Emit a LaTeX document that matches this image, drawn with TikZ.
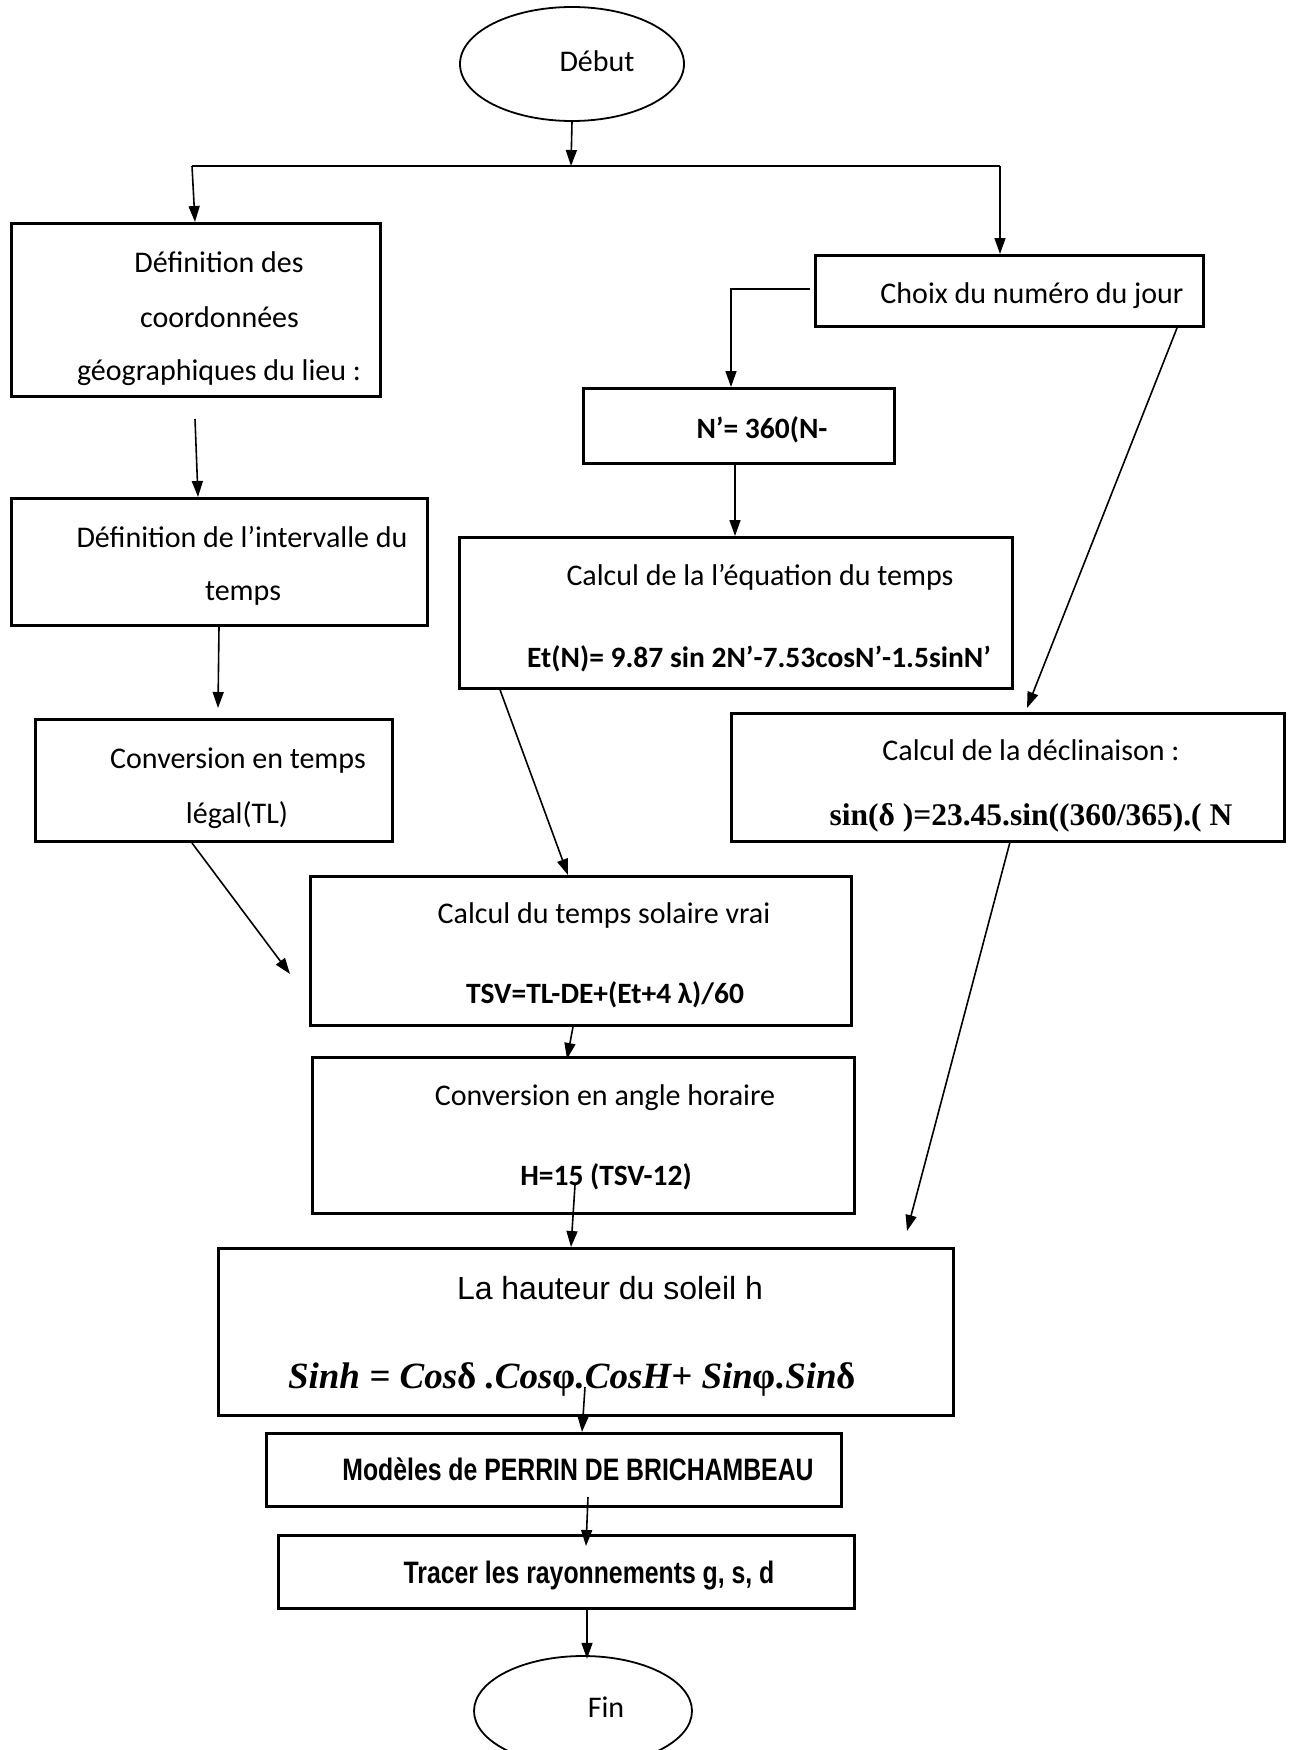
\documentclass[tikz,border=0pt]{standalone}
\usepackage{fontspec}
\setmainfont{Carlito}
\newfontfamily\arialf{Liberation Sans}
\newfontfamily\narrowf[FakeStretch=0.8]{Liberation Sans}
\newfontfamily\timesf{Liberation Serif}
\usetikzlibrary{arrows.meta,shapes.geometric,calc}
\tikzset{
  box/.style={draw, line width=2.8pt, rectangle, inner sep=0pt, anchor=north west},
  term/.style={draw, line width=1.8pt, ellipse, inner sep=0pt},
  arr/.style={line width=1.6pt, -{Triangle[length=16pt,width=11pt]}},
  plain/.style={line width=2.4pt},
  txt/.style={anchor=base, inner sep=0pt, font=\fontsize{30}{36}\selectfont},
  btxt/.style={anchor=base, inner sep=0pt, font=\fontsize{29.5}{36}\selectfont\bfseries},
}
\begin{document}
\begin{tikzpicture}[x=1pt,y=-1pt]
\clip (0,0) rectangle (1288,1750);
\fill[white] (0,0) rectangle (1288,1750);
% terminals
\node[term, minimum width=224pt, minimum height=114pt] (debut) at (572,64) {};
\node[term, minimum width=218pt, minimum height=110pt] (fin) at (583,1711) {};
% boxes
\node[box, minimum width=369pt, minimum height=173pt] (b1) at (10,222) {};
\node[box, minimum width=388pt, minimum height=71pt] (choix) at (814,254) {};
\node[box, minimum width=311pt, minimum height=75pt] (np) at (582,387) {};
\node[box, minimum width=553pt, minimum height=151pt] (eqt) at (458,536) {};
\node[box, minimum width=416pt, minimum height=127pt] (intv) at (10,497) {};
\node[box, minimum width=357pt, minimum height=122pt] (conv) at (34,718) {};
\node[box, minimum width=553pt, minimum height=128pt] (decl) at (730,712) {};
\node[box, minimum width=541pt, minimum height=149pt] (tsv) at (309,875) {};
\node[box, minimum width=542pt, minimum height=156pt] (ang) at (311,1056) {};
\node[box, minimum width=735pt, minimum height=167pt] (haut) at (217,1247) {};
\node[box, minimum width=575pt, minimum height=73pt] (mod) at (265,1432) {};
\node[box, minimum width=576pt, minimum height=73pt] (trac) at (277,1534) {};
% texts
\node[txt] (tdebut) at (597,72) {Début};
\node[txt] (t1a) at (219,272) {Définition des};
\node[txt] (t1b) at (219.5,327) {coordonnées};
\node[txt] (t1c) at (219,380) {géographiques du lieu :};
\node[txt] (tchoix) at (1032,303) {Choix du numéro du jour};
\node[btxt] (tnp) at (762,438) {N’= 360(N-};
\node[txt] (tia) at (242,547) {Définition de l’intervalle du};
\node[txt] (tib) at (243,600) {temps};
\node[txt] (tea) at (760,585) {Calcul de la l’équation du temps};
\node[btxt] (teb) at (759,667) {Et(N)= 9.87 sin 2N’-7.53cosN’-1.5sinN’};
\node[txt] (tca) at (238,768) {Conversion en temps};
\node[txt] (tcb) at (237,823) {légal(TL)};
\node[txt] (tda) at (1031,760) {Calcul de la déclinaison :};
\node[anchor=base, inner sep=0pt, font=\fontsize{31.5}{36}\selectfont\timesf\bfseries] (tdb) at (1031,825) {sin(δ )=23.45.sin((360/365).( N};
\node[txt] (tta) at (604,923) {Calcul du temps solaire vrai};
\node[btxt] (ttb) at (605,1003) {TSV=TL-DE+(Et+4 λ)/60};
\node[txt] (taa) at (605,1105) {Conversion en angle horaire};
\node[btxt] (tab) at (606,1185) {H=15 (TSV-12)};
\node[anchor=base, inner sep=0pt, font=\fontsize{32}{38}\selectfont\arialf] (tha) at (610,1299) {La hauteur du soleil h};
\node[anchor=base, inner sep=0pt, font=\fontsize{37}{44}\selectfont\timesf\bfseries\itshape] (thb) at (572,1388) {Sinh = Cos{\upshape δ} .Cos{\upshape φ}.CosH+ Sin{\upshape φ}.Sin{\upshape δ}};
\node[anchor=base, inner sep=0pt, font=\fontsize{31}{38}\selectfont\narrowf\bfseries] (tmod) at (578,1480) {Modèles de PERRIN DE BRICHAMBEAU};
\node[anchor=base, inner sep=0pt, font=\fontsize{31}{38}\selectfont\narrowf\bfseries] (ttrac) at (589,1583) {Tracer les rayonnements g, s, d};
\node[txt] (tfin) at (606,1717) {Fin};
% free coordinates
\coordinate (split) at (571,166);
\coordinate (sl) at (192,166);
\coordinate (sr) at (1000,166);
\coordinate (b1s) at (195,419);
\coordinate (convtip) at (218,708);
\coordinate (convs) at (192,843);
\coordinate (tsvtip) at (290,974);
\coordinate (choixs) at (1177,328);
\coordinate (decltip) at (1027,708);
\coordinate (decls) at (1010,842);
\coordinate (hauttip) at (907,1231);
\coordinate (angin) at (575,1185);
\coordinate (hautin) at (585,1387);
\coordinate (modin) at (588,1497);
\coordinate (tracin) at (586,1546);
\coordinate (npout) at ($(np.south west)+(153,0)$);
\coordinate (choixout) at ($(choix.west)+(-4,-2)$);
% connectors
\draw[arr] (debut.south) -- (split);
\draw[plain] (sl) -- (sr);
\draw[arr] (sl) -- ($(b1.north west)+(185,0)$);
\draw[arr] (sr) -- (sr |- choix.north);
\draw[arr] (choixout) -| ($(np.north west)+(149,0)$);
\draw[arr] (b1s) -- ($(intv.north west)+(188,0)$);
\draw[arr] ($(intv.south west)+(209,0)$) -- (convtip);
\draw[arr] (npout) -- (npout |- eqt.north);
\draw[arr] (convs) -- (tsvtip);
\draw[arr] ($(eqt.south west)+(42,0)$) -- ($(tsv.north west)+(259,0)$);
\draw[arr] (choixs) -- (decltip);
\draw[arr] (decls) -- (hauttip);
\draw[arr] ($(tsv.south west)+(264,0)$) -- ($(ang.north west)+(256,3)$);
\draw[arr] (angin) -- ($(haut.north west)+(354,0)$);
\draw[arr] (hautin) -- ($(mod.north west)+(317,0)$);
\draw[arr] (modin) -- (tracin);
\draw[arr] ($(trac.south west)+(310,0)$) -- ($(trac.south west)+(310,49)$);
\end{tikzpicture}
\end{document}
